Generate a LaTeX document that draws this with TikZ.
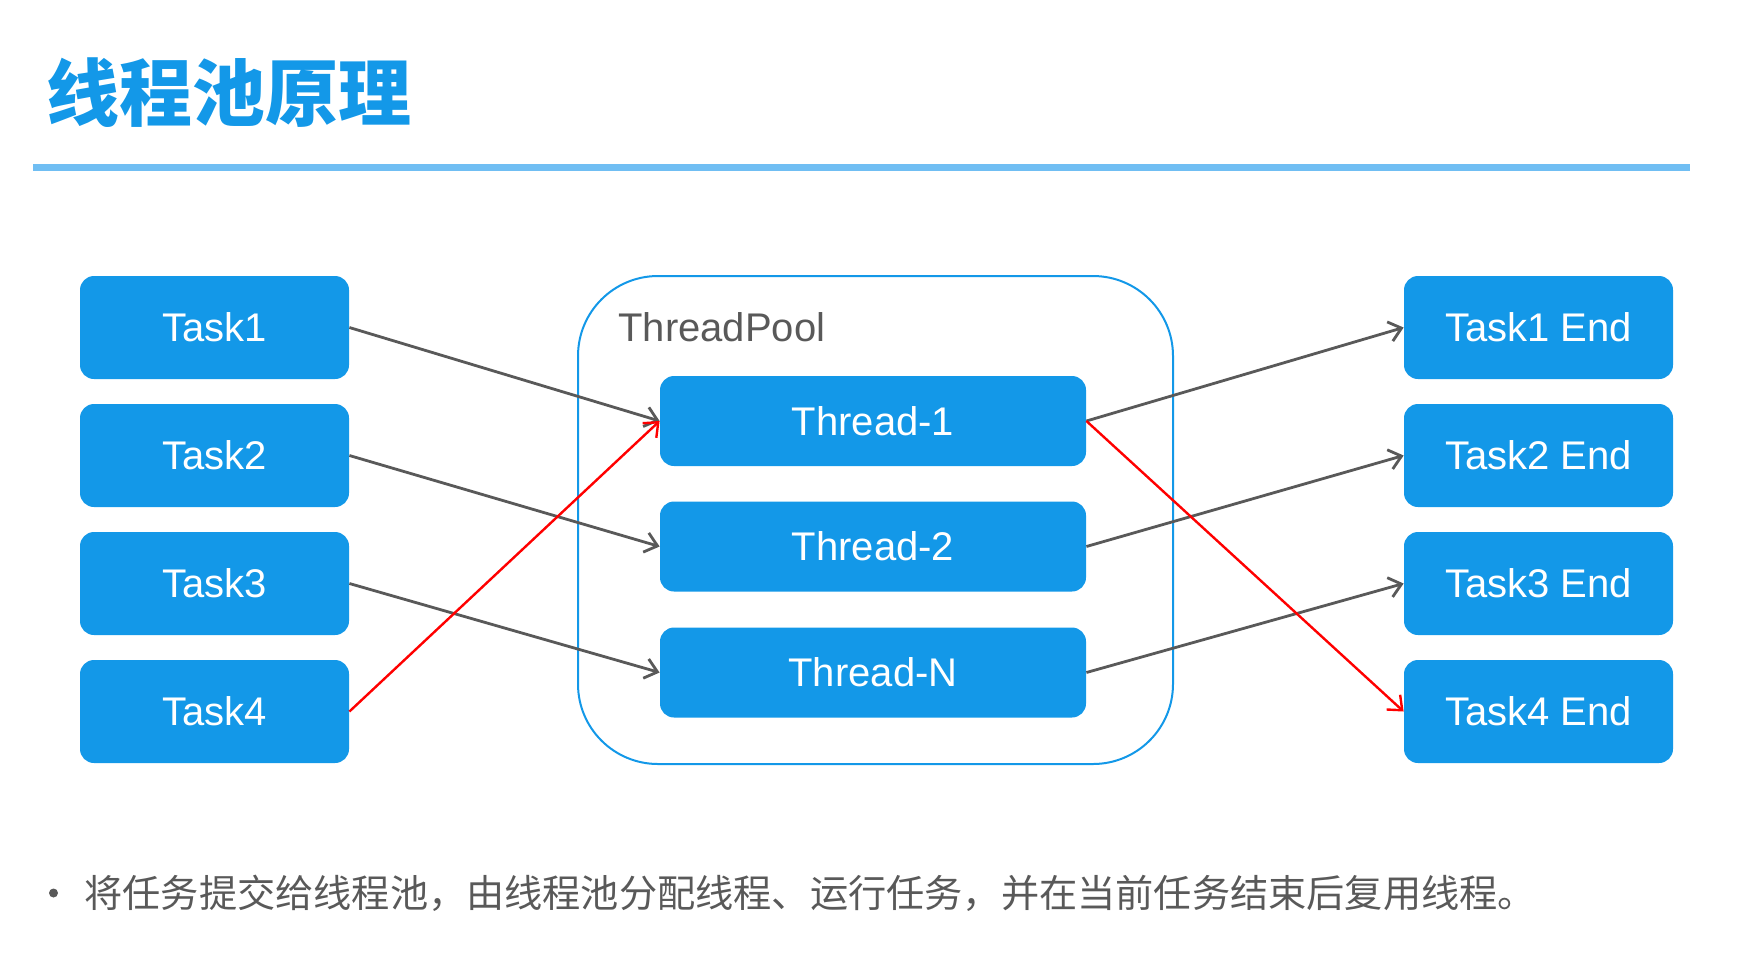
\documentclass[tikz,border=0pt]{standalone}
\usepackage{fontspec}
\setmainfont{Liberation Sans}
\newfontfamily\cjk{Noto Sans CJK SC}
\usetikzlibrary{arrows.meta}
\definecolor{poolblue}{RGB}{19,152,232}
\definecolor{ruleblue}{RGB}{112,190,243}
\definecolor{textgray}{RGB}{89,89,89}
\begin{document}
\begin{tikzpicture}[x=50pt,y=-50pt,
		taskbox/.style={fill=poolblue,rounded corners=7pt,minimum width=134.5pt,minimum height=51.5pt,inner sep=0pt,text=white,font=\fontsize{20}{24}\selectfont},
		threadbox/.style={taskbox,minimum width=213pt,minimum height=45pt},
		flow/.style={draw=textgray,line width=1.4pt,-{Straight Barb[length=6pt,width=10pt]}},
		redflow/.style={flow,draw=red,line width=1.2pt}]
		\useasboundingbox (0,0) rectangle (17.51,9.76);
		\node[anchor=west,inner sep=0pt,text=poolblue,font=\cjk\bfseries\fontsize{36.5}{40}\selectfont] (title) at (0.46,0.925) {线程池原理};
		\draw[ruleblue,line width=3.5pt] (0.33,1.675) -- (16.9,1.675);
		\node[draw=poolblue,line width=1pt,rounded corners=40pt,minimum width=297.5pt,minimum height=244pt] (pool) at (8.755,5.2) {};
		\node[anchor=west,inner sep=0pt,text=textgray,font=\fontsize{20}{24}\selectfont] (poollabel) at (6.18,3.27) {ThreadPool};
		\node[taskbox] (task1) at (2.145,3.275) {Task1};
		\node[taskbox] (task2) at (2.145,4.555) {Task2};
		\node[taskbox] (task3) at (2.145,5.835) {Task3};
		\node[taskbox] (task4) at (2.145,7.115) {Task4};
		\node[threadbox] (thread1) at (8.73,4.21) {Thread-1};
		\node[threadbox] (thread2) at (8.73,5.465) {Thread-2};
		\node[threadbox] (threadn) at (8.73,6.725) {Thread-N};
		\node[taskbox] (end1) at (15.385,3.275) {Task1 End};
		\node[taskbox] (end2) at (15.385,4.555) {Task2 End};
		\node[taskbox] (end3) at (15.385,5.835) {Task3 End};
		\node[taskbox] (end4) at (15.385,7.115) {Task4 End};
		\draw[flow] (task1.east) -- (thread1.west);
		\draw[flow] (task2.east) -- (thread2.west);
		\draw[flow] (task3.east) -- (threadn.west);
		\draw[redflow] (task4.east) -- (thread1.west);
		\draw[flow] (thread1.east) -- (end1.west);
		\draw[flow] (thread2.east) -- (end2.west);
		\draw[flow] (threadn.east) -- (end3.west);
		\draw[redflow] (thread1.east) -- (end4.west);
		\node[circle,fill=textgray,inner sep=0pt,minimum size=4.5pt] (dot) at (0.535,8.93) {};
		\node[anchor=west,inner sep=0pt,text=textgray,font=\cjk\fontsize{19.1}{22}\selectfont] (note) at (0.84,8.93) {将任务提交给线程池，由线程池分配线程、运行任务，并在当前任务结束后复用线程。};
	\end{tikzpicture}
\end{document}
